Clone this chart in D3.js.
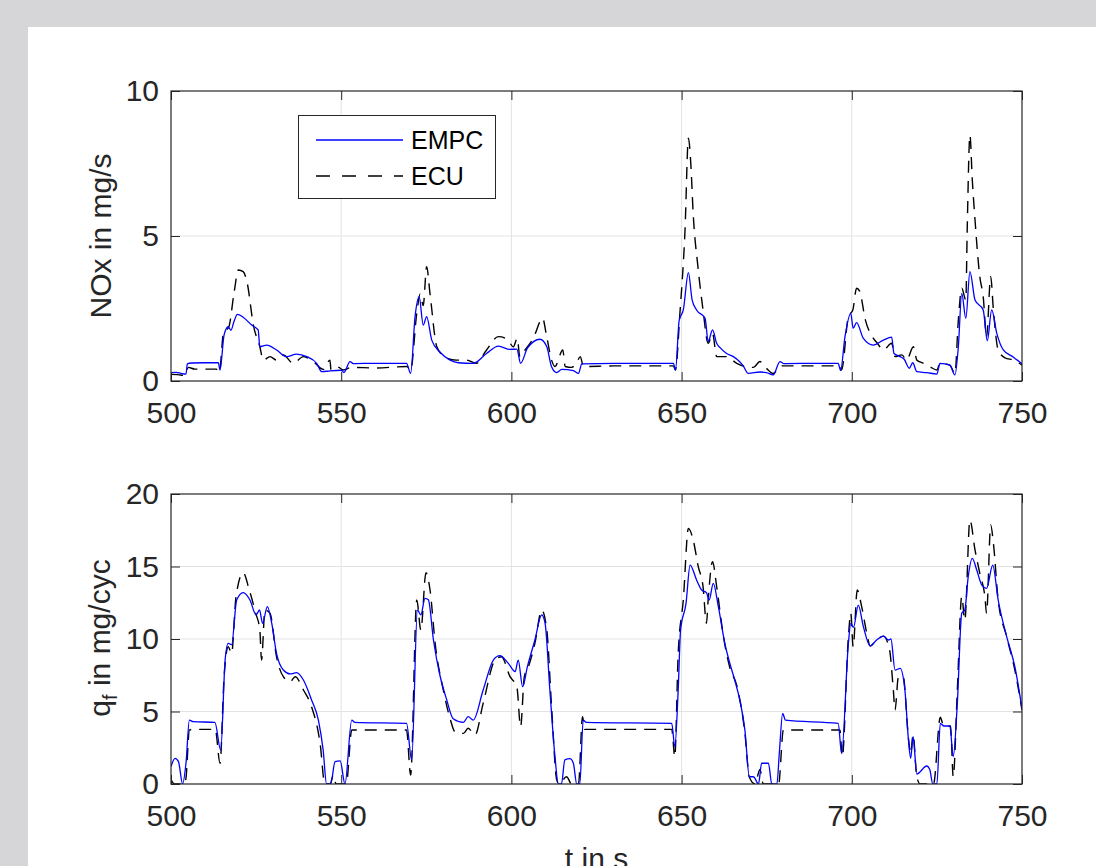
<!DOCTYPE html>
<html>
<head>
<meta charset="utf-8">
<script src="https://cdn.jsdelivr.net/npm/d3@7"></script>
<style>
  html, body { margin: 0; padding: 0; background: #d6d6d8; overflow: hidden; }
  svg { display: block; font-family: "Liberation Sans", Arial, Helvetica, sans-serif; }
</style>
</head>
<body>
<div id="grafico"></div>
<script>
// NOx in mg/s, EMPC
const noxEmpcT = [500, 501.5, 503, 504.4, 504.8, 506, 510, 513.9, 514.4, 515.6, 516.8, 517.6, 518.5, 519.5, 521.2, 523.7, 525.6, 526.1, 528.1, 531, 534, 536.9, 539.9, 542.8, 544.3, 546.7, 550.1, 550.8, 552.6, 553.5, 560, 569.2, 570.4, 571.7, 572.9, 574.1, 575.1, 576.6, 579, 582, 584.4, 588.8, 592.7, 596.2, 599.6, 601.6, 602.7, 604.7, 608.4, 610.4, 611.8, 613.3, 614.8, 618.2, 619.7, 620.7, 630, 647.6, 648.2, 649.3, 650.5, 652, 653.1, 654.4, 656.9, 657.8, 659.1, 660.3, 661.3, 663.2, 665.2, 667, 668.1, 669.6, 673, 674.9, 676.9, 678.9, 680, 690, 696, 696.7, 698, 699.7, 700.4, 701.4, 703.4, 706.3, 709.3, 711.7, 712.4, 714.2, 715.4, 716.9, 717.9, 719.1, 722, 725, 725.9, 728.8, 730.3, 731.3, 732.3, 733.5, 734.7, 736.2, 738.6, 739.8, 741.1, 742.6, 744.5, 747.5, 750];
const noxEmpc = [0.29, 0.3, 0.26, 0.24, 0.59, 0.62, 0.63, 0.63, 0.38, 1.59, 1.87, 1.75, 2.05, 2.3, 2.2, 1.93, 1.76, 1.18, 1.24, 1.07, 0.84, 0.93, 0.84, 0.61, 0.32, 0.35, 0.37, 0.29, 0.67, 0.6, 0.61, 0.61, 0.26, 2.22, 2.91, 1.93, 2.22, 1.41, 1.0, 0.72, 0.63, 0.61, 0.95, 1.2, 1.09, 1.1, 0.61, 1.13, 1.44, 1.18, 0.49, 0.29, 0.4, 0.36, 0.26, 0.59, 0.61, 0.61, 0.38, 2.1, 2.45, 3.74, 2.79, 2.45, 2.16, 1.36, 1.76, 1.3, 1.15, 0.95, 0.84, 0.67, 0.52, 0.26, 0.31, 0.29, 0.21, 0.67, 0.6, 0.61, 0.61, 0.36, 1.53, 2.33, 1.82, 2.01, 1.47, 1.24, 1.41, 1.51, 0.95, 0.84, 0.75, 0.44, 0.63, 0.32, 0.29, 0.24, 0.61, 0.55, 0.21, 1.18, 3.02, 2.16, 3.77, 2.79, 2.45, 1.39, 2.45, 1.64, 1.07, 0.82, 0.59];

// NOx in mg/s, ECU
const noxEcuT = [500, 502, 504, 505.1, 507, 513.3, 514.2, 515.4, 517, 518.5, 519.8, 521.2, 522.4, 524.2, 526.1, 527.1, 529.1, 531, 533, 535.9, 538.9, 541.8, 544.7, 546.7, 547, 549.2, 550.6, 553.1, 560, 569.3, 570.4, 572.2, 573.2, 574.1, 575.1, 576.1, 578.1, 580.8, 583.9, 586.8, 589.7, 592.7, 596.2, 598.7, 600.6, 601.7, 602.5, 604, 606.4, 609.2, 610.2, 611.8, 612.8, 615.1, 615.8, 617.7, 619.2, 620.2, 621.2, 630, 647.6, 648.2, 649.5, 651, 652, 652.7, 653.4, 654.8, 656.3, 657.8, 659.1, 660.3, 663.2, 666.2, 669.1, 671.1, 673, 674.9, 676.9, 679.4, 690, 696.5, 697, 699, 700.3, 701.4, 702.3, 704, 706, 707.5, 709.3, 711.7, 712.7, 714.7, 716.1, 718.1, 719.1, 721.1, 723, 725, 725.9, 728.8, 730.3, 731.3, 732.3, 733.5, 733.9, 734.7, 735.4, 736.2, 737.6, 738.6, 739.6, 740.8, 741.6, 743, 745, 747.5, 750];
const noxEcu = [0.23, 0.22, 0.19, 0.47, 0.41, 0.41, 0.3, 1.64, 1.87, 3.02, 3.83, 3.77, 3.37, 1.93, 1.18, 0.72, 0.84, 0.72, 0.9, 0.61, 0.84, 0.67, 0.4, 0.72, 0.38, 0.47, 0.38, 0.47, 0.45, 0.5, 0.38, 2.33, 3.0, 2.6, 3.94, 3.0, 1.18, 0.8, 0.72, 0.72, 0.61, 1.07, 1.53, 1.45, 1.18, 1.47, 0.84, 1.07, 1.47, 2.16, 1.64, 0.72, 0.5, 1.07, 0.5, 0.47, 0.63, 0.84, 0.5, 0.52, 0.52, 0.38, 2.33, 5.2, 8.37, 7.5, 5.78, 3.94, 2.45, 1.3, 1.64, 0.84, 0.84, 0.61, 0.49, 0.47, 0.67, 0.44, 0.26, 0.52, 0.52, 0.52, 0.38, 2.22, 2.45, 3.2, 3.1, 2.1, 1.53, 1.3, 1.07, 1.3, 0.84, 0.9, 0.72, 1.18, 0.72, 0.61, 0.49, 0.38, 0.61, 0.55, 0.26, 2.1, 3.2, 2.79, 5.2, 8.48, 6.93, 5.55, 3.6, 2.91, 1.53, 3.6, 2.45, 1.07, 0.8, 0.72, 0.55];

// q_f in mg/cyc, EMPC
const qfEmpcT = [500, 501.2, 502.2, 503.4, 504.4, 505.4, 506.5, 512.9, 514.6, 515.9, 516.8, 517.8, 519.3, 521.2, 523.2, 525, 526, 526.9, 528.3, 529.6, 531, 533, 535, 536.9, 538.9, 541.3, 543.3, 544.7, 545.7, 546.9, 548.2, 549.7, 551.1, 553.1, 554, 569.2, 570.7, 572.4, 573.4, 574.6, 575.6, 577.1, 579, 581, 582.9, 585.9, 587.3, 588.8, 591.7, 594.7, 596.6, 599.1, 601.1, 602, 603.3, 604.7, 606.9, 608.9, 609.9, 611.3, 612.8, 613.8, 614.7, 615.7, 617.2, 618.2, 619.2, 620.1, 621.1, 622, 647.1, 648, 649, 649.7, 651.3, 652.5, 654.4, 655.9, 657.3, 658.1, 659.3, 660.8, 662.7, 664.2, 665.6, 667.1, 668.6, 669.9, 671.1, 672.6, 673.5, 675.5, 676.5, 678, 678.7, 679.7, 680.5, 696, 697, 699, 699.7, 700.5, 701.9, 703.4, 705.4, 707.3, 709.3, 710.8, 711.5, 712.7, 714.2, 715.6, 716.6, 717.3, 718, 719.1, 722, 722.9, 723.8, 725, 726, 727.1, 728.8, 729.8, 731, 732.3, 733.2, 734.2, 735.4, 736.7, 738.2, 739.6, 741.4, 743, 745.5, 747.9, 750];
const qfEmpc = [1.2, 1.77, 1.54, 0, 1.43, 4.41, 4.3, 4.25, 2.34, 8.55, 9.7, 9.6, 12.69, 13.2, 12.69, 11.66, 12.0, 11.08, 12.23, 11.08, 9.01, 7.86, 7.59, 7.68, 7.17, 5.79, 4.41, 2.34, 0, 0, 1.54, 1.6, 0, 4.41, 4.25, 4.18, 1.66, 12.0, 11.66, 12.8, 12.7, 9.93, 7.5, 5.8, 4.5, 4.25, 4.64, 4.41, 6.48, 8.55, 8.85, 8.32, 7.75, 8.55, 6.71, 8.09, 9.93, 11.66, 11.08, 6.48, 1.89, 0, 0, 1.66, 1.75, 1.43, 0, 0, 4.41, 4.25, 4.18, 2.57, 6.48, 10.62, 12.46, 15.1, 14.07, 13.38, 13.2, 12.69, 13.84, 12.23, 9.7, 8.3, 7.17, 5.79, 3.72, 0.5, 0.5, 0, 1.43, 1.43, 0, 0, 2.11, 4.87, 4.4, 4.18, 2.11, 9.7, 11.08, 10.8, 12.34, 10.85, 9.52, 9.93, 10.2, 9.93, 10.0, 7.86, 7.97, 6.48, 3.15, 1.77, 3.26, 0.69, 1.24, 1.0, 0, 0, 4.18, 4.0, 4.0, 1.89, 5.56, 11.77, 12.0, 14.3, 15.56, 14.76, 13.72, 13.49, 15.1, 12.69, 10.16, 8.09, 5.2];

// q_f in mg/cyc, ECU
const qfEcuT = [500, 501, 504, 504.4, 505.4, 506.5, 513, 514.4, 515.6, 516.8, 517.8, 519.1, 521.2, 523, 524.9, 526.1, 526.6, 527.6, 529.1, 531, 533, 535, 536.5, 538.9, 541.3, 543.8, 545.2, 546.7, 547.7, 548.5, 551.5, 553.1, 569.2, 570.4, 572.2, 573.4, 574.9, 576.1, 577.6, 580, 582, 583.4, 585.9, 587.3, 589.3, 591.7, 595.2, 597.1, 599.6, 601.6, 602.7, 603.8, 605, 606.9, 608.9, 610.4, 611.8, 613.3, 614, 616.2, 617.7, 619.7, 620.9, 621.5, 647.1, 648, 649, 650.5, 652, 653.4, 654.9, 656.3, 657.3, 657.8, 659.1, 660.3, 662.3, 664.2, 666.2, 668.6, 669.9, 671.6, 673, 674, 678.5, 679.9, 696.5, 697.2, 699, 699.7, 700.4, 701.6, 702.9, 704.4, 705.4, 707.3, 709.3, 711.1, 712.2, 712.7, 713.7, 715.1, 716.6, 717.3, 718, 719.1, 720.1, 724, 726, 727, 729, 729.8, 731, 732.3, 733.2, 734.7, 736.2, 737.6, 739.1, 739.6, 740.8, 741.6, 743, 745.5, 747.9, 750];
const qfEcu = [0.3, 0, 0, 0.4, 3.72, 3.77, 3.77, 1.43, 7.4, 9.47, 9.0, 12.92, 14.57, 13.38, 11.77, 10.62, 8.55, 12.0, 11.77, 8.78, 7.4, 7.06, 7.4, 6.48, 5.33, 2.8, 0, 0, 0.6, 0, 0, 3.72, 3.72, 0.62, 12.69, 10.62, 14.57, 13.38, 9.7, 6.48, 4.5, 3.61, 3.49, 3.84, 3.38, 5.56, 8.55, 8.78, 7.4, 6.71, 3.95, 7.4, 8.09, 9.7, 12.0, 10.62, 5.33, 0.3, 0, 0.5, 0, 0, 4.64, 3.77, 3.77, 1.89, 9.0, 12.69, 17.63, 16.83, 14.99, 13.61, 11.08, 12.69, 15.33, 13.61, 10.16, 8.0, 6.8, 3.49, 0.46, 0, 1.0, 0, 0, 3.72, 3.72, 1.89, 10.16, 11.77, 9.47, 13.38, 12.23, 10.39, 9.52, 9.93, 10.2, 9.24, 6.48, 5.1, 7.4, 7.4, 3.26, 2.1, 3.4, 0.5, 0, 0, 4.6, 4.0, 4.0, 0.5, 6.48, 12.92, 11.31, 18.2, 16.14, 14.53, 12.92, 11.77, 17.86, 16.6, 12.69, 10.16, 7.86, 5.1];

const xTicks = [500, 550, 600, 650, 700, 750];
const noxTicks = [0, 5, 10];
const qfTicks = [0, 5, 10, 15, 20];
const legendLabels = ["EMPC", "ECU"];

document.addEventListener("DOMContentLoaded", () => {
    const width = 1096;
    const height = 866;
    const left = 171;
    const right = 1022;
    const axisColor = "#262626";
    const gridColor = "#e3e3e3";
    const dash = "12,8";

    const svg = d3.select("#grafico")
        .append("svg")
        .attr("width", width)
        .attr("height", height);

    // zona blanca de la figura
    svg.append("rect")
        .attr("x", 28).attr("y", 27)
        .attr("width", width - 28).attr("height", height - 27)
        .attr("fill", "#ffffff");

    const xScale = d3.scaleLinear().domain([500, 750]).range([left, right]);

    function drawPanel(id, top, bottom, yMax, yTicks, series) {
        const yScale = d3.scaleLinear().domain([0, yMax]).range([bottom, top]);
        const g = svg.append("g").attr("id", id);

        g.append("clipPath").attr("id", id + "-clip")
            .append("rect")
            .attr("x", left).attr("y", top)
            .attr("width", right - left).attr("height", bottom - top);

        // rejilla
        g.append("g").selectAll("line")
            .data(xTicks.slice(1, -1))
            .enter().append("line")
            .attr("x1", d => xScale(d)).attr("x2", d => xScale(d))
            .attr("y1", top).attr("y2", bottom)
            .attr("stroke", gridColor).attr("stroke-width", 1);
        g.append("g").selectAll("line")
            .data(yTicks.slice(1, -1))
            .enter().append("line")
            .attr("x1", left).attr("x2", right)
            .attr("y1", d => yScale(d)).attr("y2", d => yScale(d))
            .attr("stroke", gridColor).attr("stroke-width", 1);

        // series
        const lines = g.append("g").attr("clip-path", `url(#${id}-clip)`);
        series.forEach(s => {
            const line = d3.line()
                .x((d, i) => xScale(s.t[i]))
                .y(d => yScale(d))
                .curve(d3.curveMonotoneX);
            lines.append("path")
                .datum(s.v)
                .attr("d", line)
                .attr("fill", "none")
                .attr("stroke", s.color)
                .attr("stroke-width", s.w)
                .attr("stroke-dasharray", s.dash)
                .attr("stroke-linejoin", "round");
        });

        // ejes con ticks hacia dentro
        const xAxis = d3.axisBottom(xScale).tickValues(xTicks).tickSize(-9).tickPadding(21);
        const yAxis = d3.axisLeft(yScale).tickValues(yTicks).tickSize(-9).tickPadding(12);
        const xTop = d3.axisTop(xScale).tickValues(xTicks).tickSize(-9).tickFormat("");
        const yRight = d3.axisRight(yScale).tickValues(yTicks).tickSize(-9).tickFormat("");

        const axes = [
            g.append("g").attr("transform", `translate(0, ${bottom})`).call(xAxis),
            g.append("g").attr("transform", `translate(${left}, 0)`).call(yAxis),
            g.append("g").attr("transform", `translate(0, ${top})`).call(xTop),
            g.append("g").attr("transform", `translate(${right}, 0)`).call(yRight)
        ];
        axes.forEach(a => {
            a.select(".domain").remove();
            a.selectAll("line").attr("stroke", axisColor);
            a.selectAll("text")
                .attr("fill", axisColor)
                .style("font-size", "30px")
                .style("font-family", "'Liberation Sans', Arial, sans-serif");
        });

        g.append("rect")
            .attr("x", left).attr("y", top)
            .attr("width", right - left).attr("height", bottom - top)
            .attr("fill", "none")
            .attr("stroke", axisColor)
            .attr("stroke-width", 1.2);

        return yScale;
    }

    drawPanel("nox", 91, 381, 10, noxTicks, [
        { t: noxEcuT, v: noxEcu, color: "#000000", w: 1.4, dash: dash },
        { t: noxEmpcT, v: noxEmpc, color: "#0000ff", w: 1.3, dash: null }
    ]);
    drawPanel("qf", 494, 784, 20, qfTicks, [
        { t: qfEcuT, v: qfEcu, color: "#000000", w: 1.4, dash: dash },
        { t: qfEmpcT, v: qfEmpc, color: "#0000ff", w: 1.3, dash: null }
    ]);

    // etiquetas de los ejes
    svg.append("text")
        .attr("transform", "translate(111, 236) rotate(-90)")
        .attr("text-anchor", "middle")
        .attr("fill", axisColor)
        .style("font-size", "30px")
        .text("NOx in mg/s");

    const qLabel = svg.append("text")
        .attr("transform", "translate(110, 638) rotate(-90)")
        .attr("text-anchor", "middle")
        .attr("fill", axisColor)
        .style("font-size", "30px");
    qLabel.append("tspan").text("q");
    qLabel.append("tspan").attr("dy", 7).style("font-size", "20px").text("f");
    qLabel.append("tspan").attr("dy", -7).text(" in mg/cyc");

    svg.append("text")
        .attr("x", (left + right) / 2)
        .attr("y", 869)
        .attr("text-anchor", "middle")
        .attr("fill", axisColor)
        .style("font-size", "30px")
        .text("t in s");

    // leyenda
    const legend = svg.append("g").attr("id", "legend");
    legend.append("rect")
        .attr("x", 298.5).attr("y", 115.5)
        .attr("width", 197).attr("height", 83)
        .attr("fill", "#ffffff")
        .attr("stroke", axisColor)
        .attr("stroke-width", 1);
    const legendStyles = [
        { color: "#0000ff", dash: null, y: 140 },
        { color: "#000000", dash: "14,12", y: 176 }
    ];
    legend.selectAll("line")
        .data(legendLabels)
        .enter().append("line")
        .attr("x1", 316).attr("x2", 403)
        .attr("y1", (d, i) => legendStyles[i].y)
        .attr("y2", (d, i) => legendStyles[i].y)
        .attr("stroke", (d, i) => legendStyles[i].color)
        .attr("stroke-width", 1.3)
        .attr("stroke-dasharray", (d, i) => legendStyles[i].dash);
    legend.selectAll("text")
        .data(legendLabels)
        .enter().append("text")
        .attr("x", 411)
        .attr("y", (d, i) => legendStyles[i].y + 9)
        .attr("fill", "#000000")
        .style("font-size", "25px")
        .text(d => d);
});
</script>
</body>
</html>
